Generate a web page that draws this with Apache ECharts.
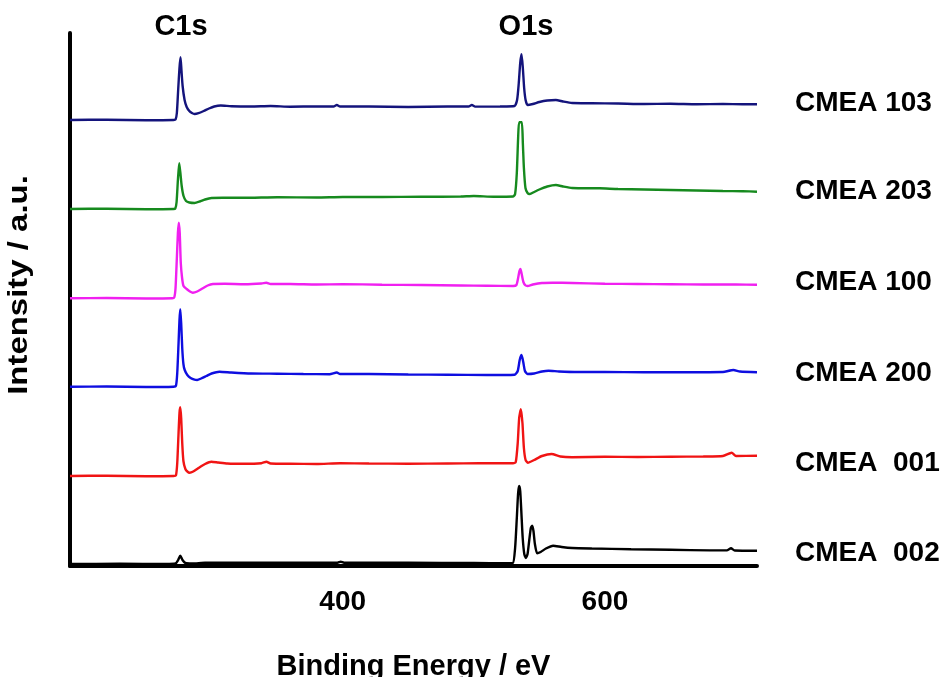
<!DOCTYPE html>
<html>
<head>
<meta charset="utf-8">
<script src="https://cdn.jsdelivr.net/npm/echarts@6/dist/echarts.min.js"></script>
<style>
html,body{margin:0;padding:0;background:#fff;}
#chart{width:951px;height:677px;}
</style>
</head>
<body>
<div id="chart"></div>
<script>
// Binding energy (eV) / intensity (a.u., stacked offsets as drawn)
const seriesNames = ['CMEA 103', 'CMEA 203', 'CMEA 100', 'CMEA 200', 'CMEA  001', 'CMEA  002'];
const xTickValues = [400, 600];
const peakLabels = ['C1s', 'O1s'];

const cmea103 = [
[192,448],[220,448.3],[250,447.8],[271,448],[272.5,448.5],[273.5,455],[274.5,478],[275.5,500],[276.3,510.7],[277,498],[277.9,482],[279.4,468],[281,461],[283,457],[285,455],[287,454],[290,454.8],[294,457],[298,459.5],[302,461.5],[307,462.5],[315,461.8],[330,461.5],[345,462],[360,461.3],[380,461.6],[393,461.5],[395.5,463],[398,461.5],[420,461.5],[450,461],[480,461.5],[496,461.5],[498.5,463],[501,461.4],[520,461.5],[531,462],[533,468],[534.3,485],[535.4,505],[536.4,513.7],[537.4,500],[538.4,480],[539.5,468],[541,463],[545,464],[550,466],[556,467.5],[562.6,468],[568,466.5],[575,465],[590,464.8],[610,464.5],[630,464],[650,464.2],[670,463.7],[690,464],[705,463.8],[716,463.8]
];
const cmea203 = [
[192,359],[220,359.3],[250,358.8],[271,359],[272.3,359.5],[273.3,366],[274.3,388],[275.3,404.7],[276.2,395],[277.2,382],[278.6,372],[280.5,367],[283,365.5],[287,365],[291,366.5],[295,368.5],[300,370],[310,370.2],[330,370.3],[350,370.8],[380,370.5],[400,371],[430,371],[460,371.2],[490,371.5],[500,372],[515,371.3],[530,371.5],[531.5,374],[532.8,395],[533.8,430],[534.6,445.7],[536.6,445.7],[537.4,425],[538.2,400],[539.4,380],[541,375],[542.7,374],[546,376],[550,378.5],[556,381.5],[562.6,383],[568,381.5],[575,380],[596,379.7],[610,379],[630,378.5],[650,378],[670,377.5],[690,377],[705,376.8],[716,376.3]
];
const cmea100 = [
[192,269.7],[220,270],[250,269.5],[270,269.7],[271.5,270.5],[272.5,280],[273.5,310],[274.3,335],[275,345.3],[275.7,335],[276.5,305],[277.5,290],[278.6,282],[281,279],[283.5,276.5],[285.7,275.3],[289,276.5],[293,279.5],[297,282.5],[301,284],[310,284.2],[325,283.8],[338,284.5],[341.8,285.3],[345,284],[360,284],[380,283.5],[400,283.8],[430,283.3],[460,283],[490,282.5],[510,282.2],[530,282],[532.5,283],[533.8,290],[534.8,297],[535.6,299],[536.5,294],[537.8,286],[539.5,282.5],[541,282],[545,283.5],[552,285],[560,285.3],[575,285],[600,284.2],[625,284],[650,283.8],[675,283.5],[700,283.5],[716,283.3]
];
const cmea200 = [
[192,181.3],[220,181.5],[250,181],[271,181.3],[272.8,182],[273.8,195],[274.8,225],[275.5,248],[276.1,258.7],[276.8,245],[277.6,220],[278.5,204],[279.5,198],[281.5,193],[284,190],[287,188.3],[289,188],[292,189.5],[296,192],[300,194.5],[306,196.3],[315,195.5],[330,194.5],[350,194.3],[370,194],[390,193.8],[395.5,195.5],[398,194],[420,194],[450,193.5],[480,193.3],[510,193],[531,193.3],[533.5,197],[535,208],[536.4,213],[537.7,206],[539,197],[541,194],[546,194.5],[552,196.5],[557,197.3],[565,196.5],[580,196],[600,196],[630,195.8],[660,195.8],[690,196],[698,198],[703,196.5],[716,195.7]
];
const cmea001 = [
[192,92],[220,92.3],[250,91.8],[271,92],[272.8,92.5],[273.8,105],[274.8,135],[275.5,155],[276.1,160.7],[276.8,150],[277.6,125],[278.5,107],[280,99],[281.5,96.5],[283.2,95.3],[286,96.5],[290,100],[295,104],[299.8,106.3],[305,105.5],[312,104.5],[325,104.2],[338,104.8],[341.8,106.3],[345,104.5],[360,104.2],[380,104],[398,104.8],[420,104.5],[450,104.3],[480,104.5],[504,104.7],[530,104.8],[532,106],[533.5,125],[534.6,150],[535.9,158.7],[537.1,145],[538.2,120],[539.5,108],[541.2,105.3],[546,108],[552,112],[559.3,114],[566,111.5],[575,110.8],[600,111.3],[625,111],[650,111.3],[675,111.5],[690,112],[696.7,115.3],[700,112],[716,112.3]
];
const cmea002 = [
[192,4],[230,4.2],[265,4],[272.5,4.5],[274.5,8],[276.1,12.3],[277.8,8],[280,5],[285,4.5],[295,5.2],[330,5.3],[370,5.3],[396,5.3],[398.5,6.3],[401,5.3],[450,5.2],[500,5],[525,4.8],[529.8,5],[531.5,20],[532.8,50],[533.8,75],[534.6,82],[535.4,77],[536.3,55],[537.3,30],[538.5,14],[539.7,10],[541,14],[542.3,28],[543.5,40],[544.5,42.3],[545.5,37],[546.6,24],[548.3,14.7],[551,16],[555,19.5],[560.5,22.3],[567,21],[575,20],[590,19.5],[620,18.8],[650,18.2],[680,17.6],[693,17.6],[696.2,19.7],[699,17.5],[716,17.3]
];

const allData = [cmea103, cmea203, cmea100, cmea200, cmea001, cmea002];
const colors = ['#14147c', '#168a1e', '#f020f0', '#0e0ee0', '#f01414', '#000000'];
const labelOffsets = [[0,-1],[0,0],[0,-2],[0,1],[0,8],[0,3]];
const FONT = '"Liberation Sans", Arial, sans-serif';

const chart = echarts.init(document.getElementById('chart'), null, {renderer: 'canvas'});
const option = {
  animation: false,
  backgroundColor: '#fff',
  grid: {left: 70, right: 194, top: 33, bottom: 111, containLabel: false, outerBoundsMode: 'none'},
  xAxis: {
    type: 'value', min: 192, max: 716,
    name: 'Binding Energy / eV', nameLocation: 'middle', nameGap: 86,
    nameTextStyle: {fontFamily: FONT, fontWeight: 'bold', fontSize: 29, color: '#000'},
    axisLine: {show: true, onZero: false, lineStyle: {color: '#000', width: 4}},
    axisTick: {show: false},
    splitLine: {show: false},
    axisLabel: {customValues: xTickValues, margin: 22, fontFamily: FONT, fontWeight: 'bold', fontSize: 28, color: '#000'}
  },
  yAxis: {
    type: 'value', min: 2, max: 535,
    axisLine: {show: true, onZero: false, lineStyle: {color: '#000', width: 4}},
    axisTick: {show: false}, axisLabel: {show: false}, splitLine: {show: false}
  },
  graphic: [
    {type: 'text', x: 20, y: 285, rotation: Math.PI / 2, scaleX: 1.22,
     style: {text: 'Intensity / a.u.', font: 'bold 27px ' + FONT, fill: '#000', textAlign: 'center', textVerticalAlign: 'middle'}},
    {type: 'text', x: 181, y: 27,
     style: {text: peakLabels[0], font: 'bold 29px ' + FONT, fill: '#000', textAlign: 'center', textVerticalAlign: 'middle'}},
    {type: 'text', x: 526, y: 27,
     style: {text: peakLabels[1], font: 'bold 29px ' + FONT, fill: '#000', textAlign: 'center', textVerticalAlign: 'middle'}}
  ],
  series: allData.map((d, i) => ({
    name: seriesNames[i],
    type: 'line',
    data: d,
    showSymbol: false,
    smooth: 0.2,
    lineStyle: {color: colors[i], width: 2.4},
    itemStyle: {color: colors[i]},
    endLabel: {
      show: true, formatter: '{a}', distance: 38, offset: labelOffsets[i],
      fontFamily: FONT, fontWeight: 'bold', fontSize: 28, color: '#000'
    }
  }))
};
chart.setOption(option);
</script>
</body>
</html>
